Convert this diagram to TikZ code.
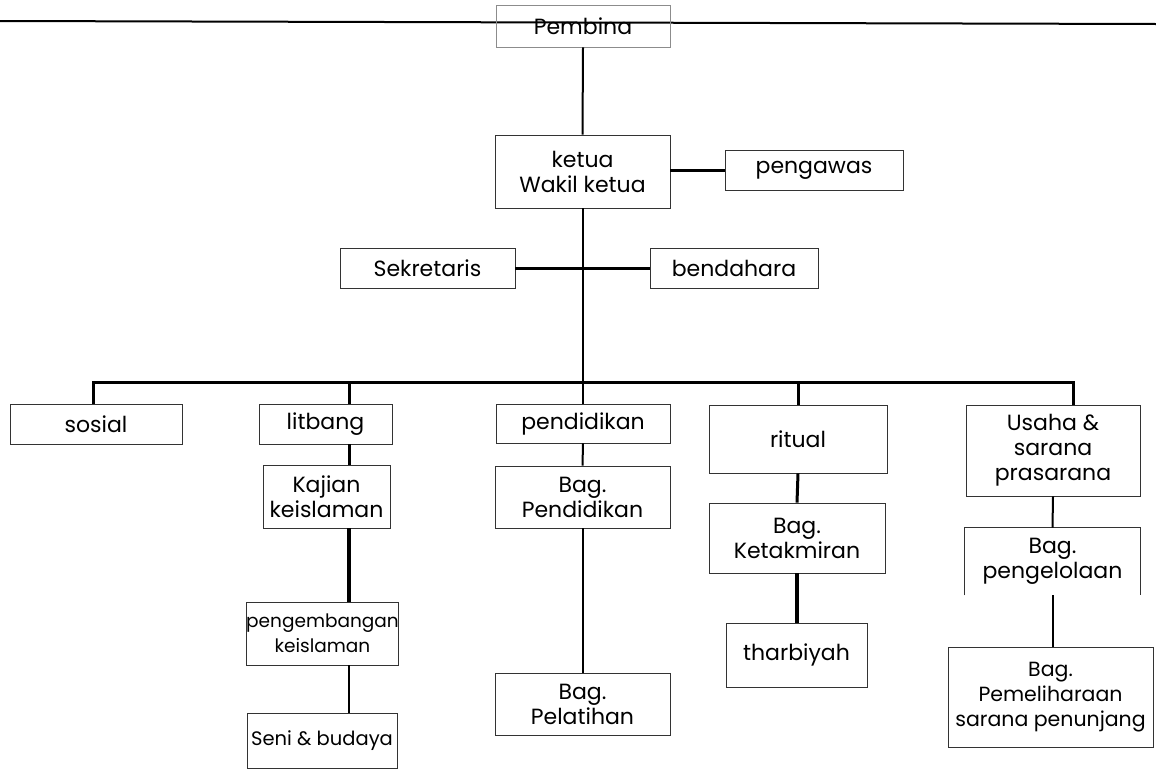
\documentclass[tikz,border=0pt]{standalone}
\usepackage{fontspec}
\setmainfont{Poppins}
\newcommand\orgfont{\fontsize{22}{25}\selectfont}
\newcommand\tightfont{\fontsize{18.5}{25}\selectfont}
% box given by its left, top, right and bottom edges (y grows downwards)
\newcommand\orgbox[7][]{%
  \node[box,#1,minimum width={(#5-#3)*1pt},minimum height={(#6-#4)*1pt}]
    (#2) at ({(#3+#5)/2},{(#4+#6)/2}) {#7};}
\tikzset{
  box/.style={draw=black!80,line width=0.8pt,inner sep=0pt,align=center,font=\orgfont},
  faint/.style={draw=black!45,line width=0.6pt},
  link/.style={line width=2pt,black},
  heavy/.style={line width=3pt,black},
}
\begin{document}
\begin{tikzpicture}[x=1pt,y=-1pt]
\useasboundingbox (0,0) rectangle (1156,774);

% header rule
\coordinate (ruleL) at (0,21);
\coordinate (ruleR) at (1156,24);
\draw[link] (ruleL) -- (ruleR);

% boxes
\orgbox[faint]{pembina}{496}{5}{670}{47}{Pembina}
\orgbox{ketua}{495}{135}{670}{208}{ketua\\Wakil ketua}
\orgbox{pengawas}{725}{150}{903}{190}{pengawas}
\orgbox{sekretaris}{340}{248}{515}{288}{Sekretaris}
\orgbox{bendahara}{650}{248}{818}{288}{bendahara}

\orgbox{sosial}{10}{404}{182}{444}{sosial}
\orgbox{litbang}{259}{404}{392}{444}{litbang}
\orgbox{kajian}{263}{465}{390}{528}{Kajian\\keislaman}
\orgbox[font=\tightfont]{pengembangan}{247}{602}{398}{665}{pengembangan\\keislaman}
\orgbox[font=\fontsize{19.5}{25}\selectfont]{seni}{247}{713}{397}{768}{Seni \& budaya}

\orgbox{pendidikan}{496}{404}{670}{443}{pendidikan}
\orgbox{bagpend}{495}{466}{670}{528}{Bag.\\Pendidikan}
\orgbox{pelatihan}{495}{673}{670}{735}{Bag.\\Pelatihan}

\orgbox{ritual}{709}{405}{887}{473}{ritual}
\orgbox{ketakmiran}{709}{503}{885}{573}{Bag.\\Ketakmiran}
\orgbox{tharbiyah}{726}{623}{867}{687}{tharbiyah}

\orgbox{usaha}{966}{405}{1140}{496}{Usaha \&\\sarana\\prasarana}
\orgbox[draw=none]{pengelolaan}{965}{528}{1140}{595}{Bag.\\pengelolaan}
\draw[black!80,line width=0.8pt] (pengelolaan.south west) -- (pengelolaan.north west)
  -- (pengelolaan.north east) -- (pengelolaan.south east);
\orgbox[font=\fontsize{20.5}{25}\selectfont]{pemeliharaan}{948}{647}{1153}{747}{Bag.\\Pemeliharaan\\sarana penunjang}

% connectors
\coordinate (bus) at (0,382);
\coordinate (litx) at (349,0);
\draw[link] (pembina.south) -- (ketua.north);
\draw[heavy] (ketua.east |- pengawas.west) -- (pengawas.west);
\draw[link] (ketua.south) -- (ketua.south |- bus);
\draw[heavy] (sekretaris.east) -- (bendahara.west);

\draw[heavy] ([xshift=-3pt]sosial.north) |- ([xshift=20pt]usaha.north |- bus)
  -- ([xshift=20pt]usaha.north);
\draw[heavy] (litx |- bus) -- (litx |- litbang.north);
\draw[link] (pendidikan.north |- bus) -- (pendidikan.north);
\draw[heavy] (ritual.north |- bus) -- (ritual.north);

\draw[heavy] (litx |- litbang.south) -- (litx |- kajian.north);
\draw[line width=3.6pt] (litx |- kajian.south) -- (litx |- pengembangan.north);
\draw[link] (litx |- pengembangan.south) -- (litx |- seni.north);

\draw[link] (pendidikan.south) -- (bagpend.north);
\draw[link] (bagpend.south) -- (pelatihan.north);

\draw[heavy] (ritual.south) -- (ketakmiran.north);
\draw[line width=3.6pt] (ketakmiran.south) -- (ketakmiran.south |- tharbiyah.north);

\draw[link] (usaha.south) -- (pengelolaan.north);
\draw[link] (pengelolaan.south) -- (pengelolaan.south |- pemeliharaan.north);
\end{tikzpicture}
\end{document}
